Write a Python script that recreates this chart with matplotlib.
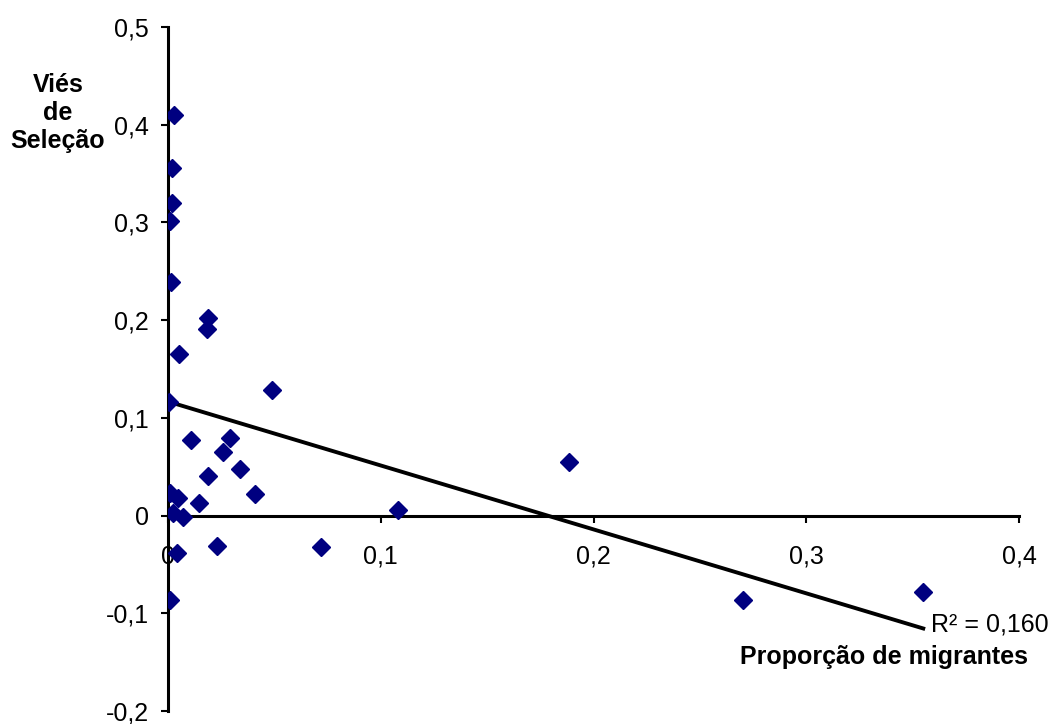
import numpy as np
import matplotlib
matplotlib.use('Agg')
import matplotlib.pyplot as plt
from matplotlib.ticker import FuncFormatter

plt.rcParams['font.family'] = ['Liberation Sans', 'DejaVu Sans']

# proporção de migrantes x viés de seleção
prop = [0.0028, 0.0020, 0.0020, 0.0010, 0.0015, 0.0188, 0.0183, 0.0052,
        0.0005, 0.0490, 0.0106, 0.0290, 0.0260, 0.0340, 0.0190, 0.0410,
        0.0010, 0.0047, 0.0146, 0.0025, 0.0070, 0.1080, 0.0043, 0.0230,
        0.0720, 0.0010, 0.1887, 0.2704, 0.3550]
vies = [0.410, 0.356, 0.320, 0.301, 0.239, 0.202, 0.191, 0.165,
        0.116, 0.128, 0.077, 0.079, 0.065, 0.048, 0.040, 0.022,
        0.023, 0.018, 0.013, 0.003, -0.001, 0.006, -0.038, -0.031,
        -0.032, -0.086, 0.055, -0.086, -0.078]
r2_label = 'R² = 0,160'

x = np.array(prop)
y = np.array(vies)
slope, intercept = np.polyfit(x, y, 1)
xl = np.array([0.0, x.max()])

fig = plt.figure(figsize=(10.58, 7.24), dpi=100)
ax = fig.add_axes([168 / 1058, 1 - 711 / 724, (1019 - 168) / 1058, (711 - 27) / 724])

ax.plot(x, y, linestyle='none', marker='D', markersize=9.5,
        color='#000080', zorder=3)
ax.plot(xl, intercept + slope * xl, color='black', lw=2.8, zorder=2)

ax.set_xlim(0, 0.4)
ax.set_ylim(-0.2, 0.5)
ax.set_xticks([0, 0.1, 0.2, 0.3, 0.4])
ax.set_yticks([-0.2, -0.1, 0, 0.1, 0.2, 0.3, 0.4, 0.5])
fmt = FuncFormatter(lambda v, p: ('%g' % round(v, 2)).replace('.', ','))
ax.xaxis.set_major_formatter(fmt)
ax.yaxis.set_major_formatter(fmt)

for s in ['top', 'right']:
    ax.spines[s].set_visible(False)
ax.spines['left'].set_position(('data', 0))
ax.spines['bottom'].set_position(('data', 0))
ax.spines['left'].set_linewidth(2.2)
ax.spines['bottom'].set_linewidth(2.2)

ax.tick_params(axis='y', direction='out', length=5, width=1.5,
               labelsize=18, pad=9)
ax.tick_params(axis='x', direction='out', length=5, width=1.5,
               labelsize=18, pad=16)

# rótulo do R² junto ao fim da reta
ax.text(0.3585, -0.111, r2_label, fontsize=18, va='center', ha='left')

fig.text(58 / 1058, 1 - 113 / 724, 'Viés\nde\nSeleção', fontsize=18,
         fontweight='bold', ha='center', va='center', linespacing=1.22)
fig.text(1028 / 1058, 1 - 657 / 724, 'Proporção de migrantes', fontsize=18,
         fontweight='bold', ha='right', va='center')

fig.savefig('out.png', dpi=100)
